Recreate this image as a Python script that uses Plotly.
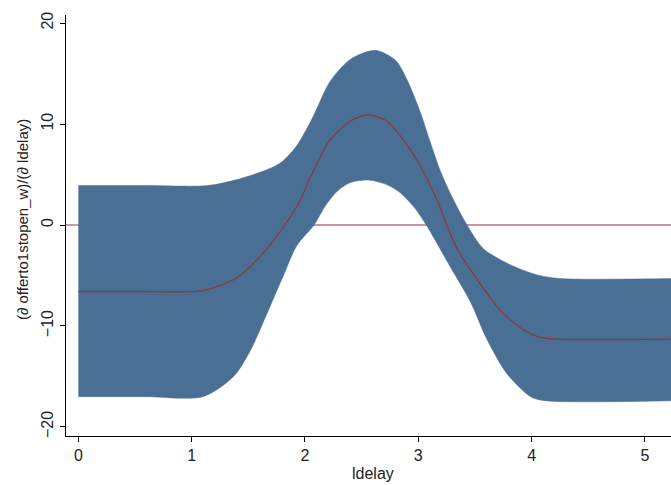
import plotly.graph_objects as go

# Upper confidence bound
x_upper = [0.0, 0.6, 1.14, 1.40, 1.69, 1.80, 1.93, 2.07, 2.22, 2.40, 2.62, 2.80, 2.90, 3.02, 3.10, 3.20, 3.31, 3.43, 3.57, 3.75, 3.93, 4.07, 4.25, 5.3]
upper = [3.9, 3.9, 3.9, 4.5, 5.6, 6.3, 7.9, 10.7, 14.2, 16.4, 17.3, 16.3, 14.4, 11.1, 8.4, 5.2, 2.5, 0.0, -2.3, -3.6, -4.5, -5.0, -5.3, -5.3]

# Lower confidence bound
x_lower = [0.0, 0.6, 1.10, 1.37, 1.52, 1.66, 1.81, 1.93, 2.08, 2.18, 2.28, 2.40, 2.56, 2.72, 2.84, 2.96, 3.07, 3.28, 3.46, 3.60, 3.78, 3.99, 4.12, 5.3]
lower = [-17.0, -17.0, -17.0, -15.0, -12.4, -8.9, -5.0, -2.0, 0.0, 1.9, 3.3, 4.2, 4.45, 4.0, 3.2, 1.8, 0.0, -4.1, -7.6, -11.2, -14.7, -17.0, -17.4, -17.4]

# Marginal effect
x_mean = [0.0, 0.6, 1.10, 1.40, 1.63, 1.84, 1.96, 2.05, 2.22, 2.40, 2.56, 2.72, 2.87, 3.05, 3.16, 3.34, 3.52, 3.72, 3.93, 4.07, 4.22, 5.3]
mean = [-6.6, -6.6, -6.5, -5.2, -2.8, 0.3, 2.5, 4.8, 8.4, 10.3, 10.9, 10.3, 8.4, 5.2, 2.6, -2.3, -5.4, -8.4, -10.4, -11.1, -11.3, -11.3]

x_ticks = [0, 1, 2, 3, 4, 5]
y_ticks = [-20, -10, 0, 10, 20]

band_color = "#4A6F94"
line_color = "#90353B"

fig = go.Figure()
# reference line at zero (drawn beneath the band)
fig.add_trace(go.Scatter(
    x=[-0.11, 5.3], y=[0, 0], mode="lines",
    line=dict(color=line_color, width=1.2), showlegend=False))
fig.add_trace(go.Scatter(
    x=x_lower, y=lower, mode="lines",
    line=dict(color=band_color, width=0.5, shape="spline", smoothing=0.8),
    hoverinfo="skip", showlegend=False))
fig.add_trace(go.Scatter(
    x=x_upper, y=upper, mode="lines", fill="tonexty", fillcolor=band_color,
    line=dict(color=band_color, width=0.5, shape="spline", smoothing=0.8),
    hoverinfo="skip", showlegend=False))
fig.add_trace(go.Scatter(
    x=x_mean, y=mean, mode="lines",
    line=dict(color=line_color, width=1.2, shape="spline", smoothing=0.8),
    showlegend=False))

font = dict(family="Liberation Sans, Arial, sans-serif", size=16, color="#222222")

fig.update_layout(
    width=671, height=485,
    margin=dict(l=66, r=0, t=15, b=49),
    paper_bgcolor="white", plot_bgcolor="white",
    font=font,
    xaxis=dict(range=[-0.109, 5.23], tickvals=x_ticks, ticks="outside", ticklen=5,
               tickcolor="black", showline=True, linecolor="black", linewidth=1.3,
               showgrid=False, zeroline=False, tickfont=dict(size=16, color="#222222")),
    yaxis=dict(range=[-20.9, 20.8], tickvals=y_ticks, ticks="outside", ticklen=5,
               tickcolor="black", showline=True, linecolor="black", linewidth=1.3,
               showgrid=False, zeroline=False, tickangle=-90,
               tickfont=dict(size=16, color="#222222")),
    annotations=[
        dict(text="ldelay", xref="paper", yref="paper", x=0.507, y=-0.088,
             xanchor="center", yanchor="middle", showarrow=False,
             font=dict(size=16, color="#222222")),
        dict(text="(∂ offerto1stopen_w)/(∂ ldelay)", xref="paper", yref="paper",
             x=-0.0727, y=0.513, xanchor="center", yanchor="middle",
             textangle=-90, showarrow=False, font=dict(size=15, color="#222222")),
    ],
)

fig.write_html("out.html")
